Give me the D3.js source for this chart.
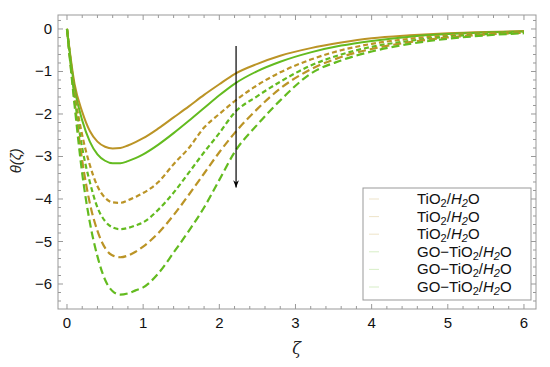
<!DOCTYPE html>
<html>
<head>
<meta charset="utf-8">
<script src="https://cdn.jsdelivr.net/npm/d3@7"></script>
<style>
  body { margin: 0; background: #fff; }
  svg { font-family: "Liberation Sans", Arial, sans-serif; }
</style>
</head>
<body>
<div id="container"></div>
<script>
const width = 550;
const height = 367;

// data
const zeta = [0, 0.1, 0.2, 0.3, 0.4, 0.5, 0.6, 0.7, 0.8, 0.9, 1.0, 1.2, 1.4, 1.6, 1.8, 2.0, 2.2, 2.5, 2.8, 3.2, 3.6, 4.0, 4.5, 5.0, 5.5, 6.0];
const tioSolid = [0, -1.3, -1.95, -2.4, -2.65, -2.77, -2.81, -2.8, -2.74, -2.66, -2.57, -2.34, -2.08, -1.82, -1.55, -1.3, -1.06, -0.82, -0.63, -0.45, -0.32, -0.22, -0.15, -0.1, -0.07, -0.05];
const goSolid = [0, -1.4, -2.15, -2.65, -2.95, -3.1, -3.16, -3.16, -3.11, -3.04, -2.95, -2.72, -2.45, -2.16, -1.86, -1.56, -1.29, -0.99, -0.77, -0.55, -0.39, -0.28, -0.18, -0.12, -0.08, -0.06];
const tioDash1 = [0, -1.5, -2.5, -3.2, -3.7, -3.97, -4.08, -4.09, -4.03, -3.95, -3.86, -3.6, -3.18, -2.8, -2.32, -2.0, -1.7, -1.32, -1.02, -0.72, -0.5, -0.35, -0.23, -0.15, -0.1, -0.07];
const goDash1 = [0, -1.6, -2.8, -3.6, -4.2, -4.52, -4.67, -4.71, -4.68, -4.62, -4.55, -4.25, -3.85, -3.38, -2.9, -2.45, -1.97, -1.58, -1.24, -0.86, -0.6, -0.42, -0.28, -0.18, -0.12, -0.08];
const tioDash2 = [0, -1.7, -3.1, -4.1, -4.75, -5.15, -5.33, -5.37, -5.33, -5.24, -5.12, -4.8, -4.38, -3.9, -3.4, -2.9, -2.45, -1.88, -1.4, -0.95, -0.66, -0.47, -0.31, -0.2, -0.13, -0.09];
const goDash2 = [0, -1.8, -3.4, -4.55, -5.35, -5.9, -6.17, -6.25, -6.22, -6.15, -6.08, -5.75, -5.26, -4.75, -4.2, -3.55, -2.9, -2.25, -1.68, -1.05, -0.74, -0.53, -0.35, -0.23, -0.15, -0.1];
const legendNames = ["TiO2", "TiO2", "TiO2", "GO-TiO2", "GO-TiO2", "GO-TiO2"];
const xTicks = [0, 1, 2, 3, 4, 5, 6];
const yTicks = [0, -1, -2, -3, -4, -5, -6];

const orange = "#bb9426";
const green = "#63bb1f";

const series = [
  { y: tioSolid, color: orange, dash: null },
  { y: goSolid, color: green, dash: null },
  { y: tioDash1, color: orange, dash: "5,3" },
  { y: goDash1, color: green, dash: "5,3" },
  { y: tioDash2, color: orange, dash: "8,4" },
  { y: goDash2, color: green, dash: "8,4" }
];

const svg = d3.select("#container").append("svg")
  .attr("width", width).attr("height", height);

const mLeft = 58, mRight = 536, mTop = 15, mBottom = 309;
const x = d3.scaleLinear().domain([-0.118, 6.158]).range([mLeft, mRight]);
const y = d3.scaleLinear().domain([-6.588, 0.329]).range([mBottom, mTop]);

// frame
svg.append("rect")
  .attr("x", mLeft).attr("y", mTop)
  .attr("width", mRight - mLeft).attr("height", mBottom - mTop)
  .attr("fill", "none").attr("stroke", "#999").attr("stroke-width", 1);

// ticks, Mathematica style, on all four sides
const xMinor = d3.range(0, 6.01, 0.2).filter(v => Math.abs(v - Math.round(v)) > 0.01);
const yMinor = d3.range(-6.4, 0.21, 0.2).filter(v => Math.abs(v - Math.round(v)) > 0.01);
const tk = svg.append("g").attr("stroke", "#999").attr("stroke-width", 1);
xTicks.forEach(v => {
  tk.append("line").attr("x1", x(v)).attr("x2", x(v)).attr("y1", mBottom).attr("y2", mBottom - 5);
  tk.append("line").attr("x1", x(v)).attr("x2", x(v)).attr("y1", mTop).attr("y2", mTop + 5);
});
xMinor.forEach(v => {
  tk.append("line").attr("x1", x(v)).attr("x2", x(v)).attr("y1", mBottom).attr("y2", mBottom - 3);
  tk.append("line").attr("x1", x(v)).attr("x2", x(v)).attr("y1", mTop).attr("y2", mTop + 3);
});
yTicks.forEach(v => {
  tk.append("line").attr("y1", y(v)).attr("y2", y(v)).attr("x1", mLeft).attr("x2", mLeft + 5);
  tk.append("line").attr("y1", y(v)).attr("y2", y(v)).attr("x1", mRight).attr("x2", mRight - 5);
});
yMinor.forEach(v => {
  tk.append("line").attr("y1", y(v)).attr("y2", y(v)).attr("x1", mLeft).attr("x2", mLeft + 3);
  tk.append("line").attr("y1", y(v)).attr("y2", y(v)).attr("x1", mRight).attr("x2", mRight - 3);
});

// tick labels
svg.append("g").selectAll("text").data(xTicks).enter().append("text")
  .attr("x", d => x(d)).attr("y", 328)
  .attr("text-anchor", "middle").attr("font-size", 15).attr("fill", "#111")
  .text(d => d);
svg.append("g").selectAll("text").data(yTicks).enter().append("text")
  .attr("x", 52).attr("y", d => y(d) + 5)
  .attr("text-anchor", "end").attr("font-size", 15).attr("fill", "#111")
  .text(d => d === 0 ? "0" : "\u2212" + Math.abs(d));

// axis labels
svg.append("text").attr("x", x(3) + 1).attr("y", 354)
  .attr("text-anchor", "middle").attr("font-size", 16).attr("font-style", "italic")
  .attr("font-family", "DejaVu Serif, serif").attr("fill", "#222")
  .text("\u03b6");
svg.append("text")
  .attr("transform", `translate(21,${y(-3.1)}) rotate(-90)`)
  .attr("text-anchor", "middle").attr("font-size", 15).attr("font-style", "italic").attr("fill", "#222")
  .text("\u03b8(\u03b6)");

// curves
const line = d3.line().x((d, i) => x(zeta[i])).y(d => y(d)).curve(d3.curveMonotoneX);
const plot = svg.append("g");
series.forEach(s => {
  plot.append("path")
    .attr("d", line(s.y))
    .attr("fill", "none")
    .attr("stroke", s.color)
    .attr("stroke-width", s.dash ? 2.2 : 2)
    .attr("stroke-dasharray", s.dash);
});

// arrow
svg.append("defs").append("marker")
  .attr("id", "arr").attr("viewBox", "0 0 10 10")
  .attr("refX", 10).attr("refY", 5)
  .attr("markerWidth", 6).attr("markerHeight", 8).attr("orient", "auto")
  .append("path").attr("d", "M0,1 L10,5 L0,9 L3,5 Z").attr("fill", "#000");
svg.append("line")
  .attr("x1", x(2.22)).attr("x2", x(2.22))
  .attr("y1", y(-0.4)).attr("y2", y(-3.73))
  .attr("stroke", "#000").attr("stroke-width", 1.2)
  .attr("marker-end", "url(#arr)");

// legend
const lg = svg.append("g");
lg.append("rect").attr("x", 363).attr("y", 188).attr("width", 168).attr("height", 112)
  .attr("fill", "#fff").attr("stroke", "#999").attr("stroke-width", 1);
legendNames.forEach((name, i) => {
  const cy = 199 + i * 17.6;
  lg.append("line").attr("x1", 369).attr("x2", 379).attr("y1", cy).attr("y2", cy)
    .attr("stroke", i < 3 ? orange : green).attr("stroke-opacity", 0.25).attr("stroke-width", 1);
  const t = lg.append("text").attr("x", 417).attr("y", cy + 5).attr("font-size", 15).attr("fill", "#111");
  const base = name.replace("-", "\u2212").replace("2", "");
  t.append("tspan").text(base);
  t.append("tspan").attr("font-size", 11).attr("dy", 3).text("2");
  t.append("tspan").attr("dy", -3).text("/");
  t.append("tspan").attr("font-style", "italic").text("H");
  t.append("tspan").attr("font-size", 11).attr("font-style", "italic").attr("dy", 3).text("2");
  t.append("tspan").attr("dy", -3).text("O");
});
</script>
</body>
</html>
